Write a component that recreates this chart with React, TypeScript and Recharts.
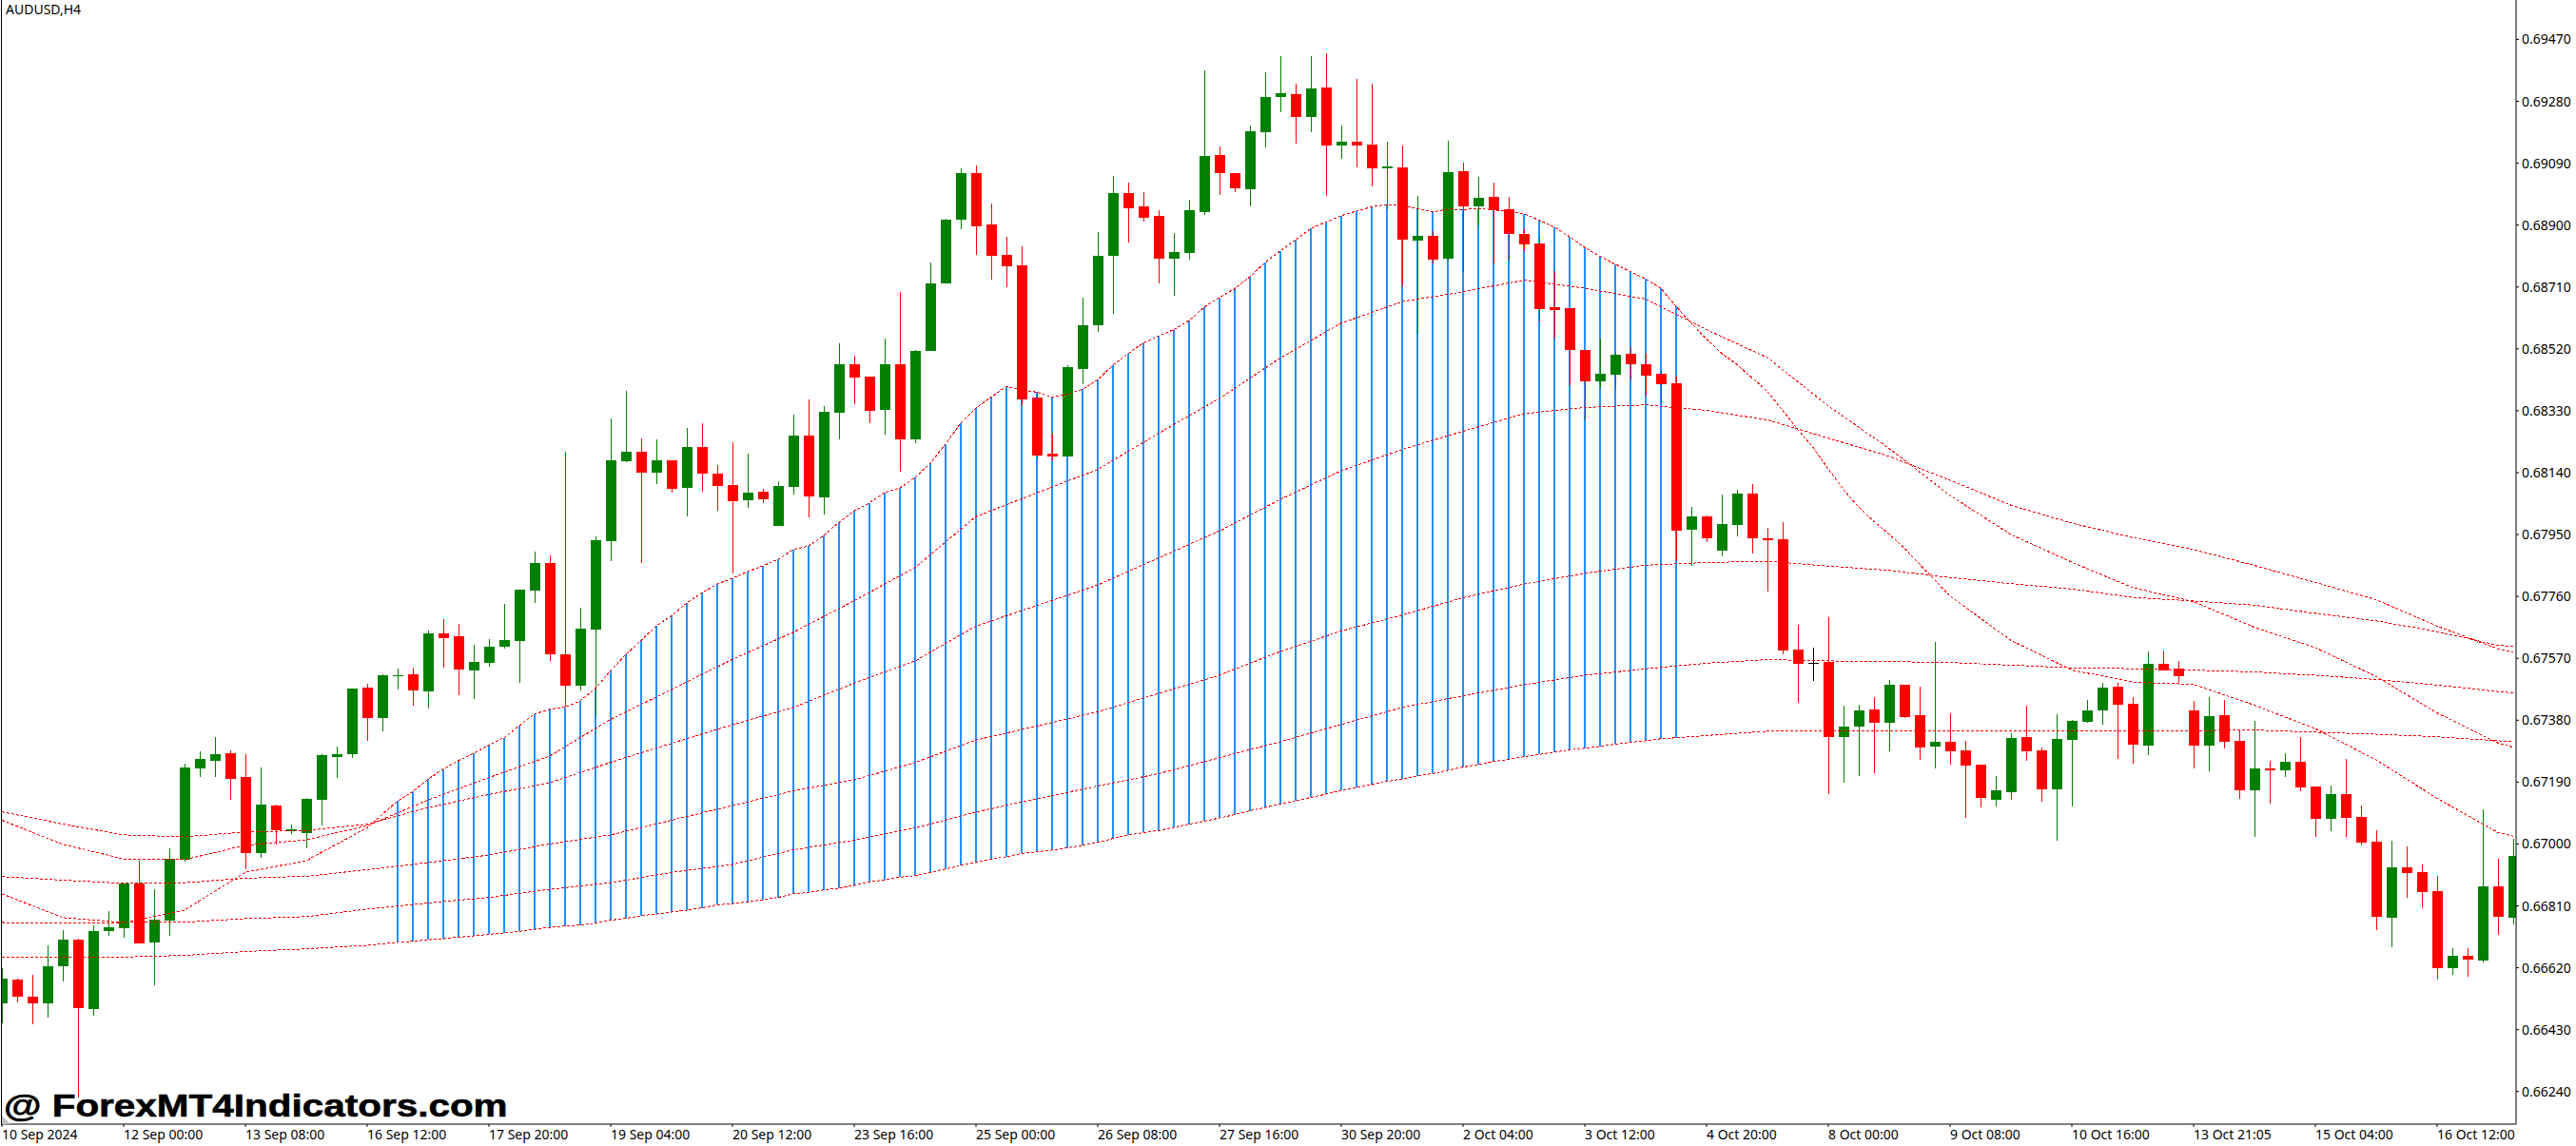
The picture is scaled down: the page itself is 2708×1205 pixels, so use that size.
import React from "react";
import { ComposedChart, Bar, Line, XAxis, YAxis } from "recharts";

// Prices in points (1 point = 0.00001)
const opens = [
66511,66584,66531,66512,66624,66705,66492,66732,66741,66879,
66697,66765,66951,67232,67255,67278,67206,66971,67118,67039,
67033,67135,67266,67275,67479,67386,67514,67521,67469,67647,
67638,67533,67556,67606,67623,67778,67863,67582,67486,67658,
67930,68175,68204,68140,68178,68093,68219,68137,68102,68055,
68082,67977,68096,68254,68064,68324,68473,68435,68333,68473,
68242,68514,68721,68916,69059,68901,68808,68776,68370,68198,
68189,68457,68592,68805,68998,68958,68928,68796,68814,68940,
69115,69059,69009,69185,69293,69301,69231,69323,69144,69156,
69147,69074,69077,68852,68866,68796,69065,68958,68987,68949,
68872,68844,68648,68644,68516,68420,68440,68505,68472,68443,
68414,67964,68005,67900,67979,68076,67939,67935,67597,67555,
67559,67327,67360,67413,67372,67489,67396,67299,67313,67287,
67243,67136,67158,67327,67287,67167,67320,67375,67410,67482,
67430,67301,67553,67539,67410,67301,67396,67316,67165,67232,
67226,67253,67176,67077,67153,67083,67007,66773,66928,66914,
66855,66618,66656,66642,66869,66773];
const highs = [
66618,66586,66599,66689,66737,66709,66750,66793,66879,66949,
66861,66986,67247,67284,67327,67286,67275,67235,67120,67061,
67140,67275,67298,67478,67492,67520,67538,67541,67654,67690,
67676,67612,67629,67737,67781,67898,67886,68204,67726,67944,
68306,68391,68245,68242,68178,68277,68292,68163,68233,68198,
68090,68114,68318,68365,68344,68537,68499,68435,68552,68695,
68517,68785,68919,69073,69083,68966,68864,68836,68385,68259,
68470,68678,68879,69051,69030,69000,68945,68875,68978,69375,
69140,69059,69206,69369,69419,69334,69419,69428,69206,69349,
69334,69155,69144,68989,68881,69158,69092,69048,69030,68987,
68887,68864,68760,68644,68516,68551,68509,68526,68505,68455,
68435,68036,68008,68073,68088,68105,67971,67988,67673,67602,
67696,67425,67427,67451,67503,67489,67482,67620,67401,67316,
67243,67208,67339,67425,67296,67398,67380,67442,67494,67494,
67451,67591,67595,67562,67439,67451,67442,67351,67377,67255,
67279,67327,67176,67179,67260,67117,67041,67010,66993,66937,
66902,66680,66680,67106,66955,67015];
const lows = [
66449,66514,66447,66466,66577,66222,66472,66719,66712,66694,
66566,66718,66945,67206,67206,67135,66923,66957,66999,67030,
66986,67056,67202,67263,67316,67345,67474,67424,67416,67542,
67457,67445,67545,67600,67495,67740,67562,67422,67472,67392,
67869,68172,67863,68105,68079,68006,68082,68023,67831,68032,
68047,67977,68073,68003,68012,68242,68350,68292,68257,68143,
68230,68514,68721,68887,68808,68732,68709,68348,68182,68179,
68189,68411,68571,68627,68846,68910,68721,68683,68793,68931,
68993,69000,68958,69138,69246,69150,69185,68989,69103,69077,
69019,68949,68712,68565,68782,68791,68756,68892,68782,68791,
68820,68604,68551,68408,68301,68401,68396,68422,68376,68351,
67867,67855,67927,67884,67945,67892,67775,67582,67432,67501,
67153,67188,67208,67217,67284,67387,67258,67232,67243,67079,
67112,67116,67136,67255,67129,67010,67115,67372,67366,67260,
67246,67272,67532,67494,67232,67222,67293,67138,67022,67124,
67205,67162,67022,67039,67022,66995,66735,66683,66834,66802,
66583,66599,66592,66637,66721,66752];
const closes = [
66586,66532,66512,66626,66705,66496,66732,66744,66879,66696,
66767,66954,67235,67261,67275,67199,66971,67120,67041,67044,
67138,67272,67275,67477,67386,67518,67518,67470,67647,67632,
67536,67559,67606,67626,67781,67863,67582,67486,67661,67933,
68178,68204,68140,68178,68090,68219,68137,68099,68052,68079,
68058,68099,68254,68067,68327,68473,68432,68330,68473,68242,
68514,68721,68916,69059,68896,68805,68773,68364,68192,68189,
68464,68592,68805,68998,68951,68922,68796,68817,68945,69112,
69059,69013,69188,69293,69305,69231,69319,69144,69156,69144,
69074,69079,68855,68866,68793,69062,68958,68984,68945,68872,
68840,68642,68639,68516,68420,68443,68501,68472,68437,68411,
67961,68005,67938,67983,68076,67938,67934,67594,67553,67555,
67327,67360,67410,67372,67489,67390,67296,67313,67284,67241,
67140,67165,67325,67284,67167,67322,67377,67410,67480,67427,
67305,67553,67532,67515,67301,67392,67313,67165,67232,67226,
67253,67173,67077,67153,67079,67003,66776,66928,66910,66852,
66618,66656,66645,66869,66776,66962];

// Shaded band: bars 26..110, drawn between the fastest and the lowest average
const bandFirstBar = 26;
const bandTop = [
67132,67161,67199,67230,67256,67278,67304,67326,67363,67399,
67414,67420,67439,67478,67532,67582,67625,67670,67701,67740,
67771,67798,67816,67836,67854,67874,67904,67915,67947,67988,
68023,68047,68079,68093,68125,68169,68228,68292,68338,68372,
68405,68394,68387,68372,68380,68396,68425,68470,68506,68538,
68560,68579,68607,68648,68678,68705,68742,68785,68821,68855,
68890,68909,68929,68943,68956,68963,68960,68951,68940,68949,
68948,68951,68946,68943,68935,68915,68894,68864,68831,68804,
68780,68757,68735,68706,68650];
const bandBottom = [
66698,66701,66706,66709,66714,66718,66723,66727,66732,66738,
66744,66748,66751,66757,66766,66772,66780,66785,66791,66797,
66804,66813,66817,66822,66829,66836,66847,66851,66859,66864,
66873,66883,66890,66898,66903,66913,66923,66934,66944,66954,
66961,66971,66976,66981,66988,66996,67005,67017,67027,67035,
67041,67051,67061,67070,67080,67090,67102,67112,67123,67133,
67143,67153,67165,67173,67182,67192,67200,67209,67216,67226,
67236,67244,67253,67260,67268,67275,67282,67289,67294,67299,
67307,67312,67317,67323,67326];

// Averages read at every fourth bar
const sampleBars = [0,4,8,12,16,20,24,28,32,36,40,44,48,52,56,60,64,68,72,76,80,84,88,92,96,100,104,108,112,116,120,124,128,132,136,140,144,148,152,156,160,164,165];
const lineB = [67073,66999,66954,66952,66996,67013,67056,67135,67204,67270,67383,67474,67567,67650,67747,67849,68005,68078,68150,68261,68368,68492,68599,68665,68695,68731,68706,68673,68579,68493,68345,68214,68070,67950,67865,67787,67744,67665,67603,67514,67402,67310,67297];
const lineC = [67099,67061,67028,67022,67037,67041,67061,67112,67152,67188,67251,67309,67366,67419,67494,67562,67669,67732,67795,67878,67961,68058,68146,68211,68267,68321,68340,68348,68331,68302,68246,68190,68117,68040,67985,67941,67904,67855,67803,67750,67669,67599,67590];
const lineD = [66900,66889,66879,66881,66895,66901,66921,66943,66966,67000,67028,67073,67118,67163,67197,67250,67319,67362,67406,67462,67518,67591,67654,67703,67756,67798,67831,67856,67864,67868,67853,67840,67818,67799,67783,67757,67746,67733,67708,67685,67652,67610,67606];
const lineE = [66759,66757,66759,66760,66771,66777,66800,66819,66836,66861,66881,66913,66937,66982,67012,67049,67098,67139,67178,67216,67265,67314,67367,67419,67455,67489,67518,67538,67555,67566,67562,67560,67557,67549,67541,67538,67534,67528,67518,67505,67488,67468,67464];

// Parts of the fastest and lowest averages outside the band
const lineAHeadBars = [0,4,8,12,16,20,24];
const lineAHead = [66847,66774,66759,66797,66913,66949,67050];
const lineATailBars = [111,112,113,114,115,116,117,118,119,120,121,122,123,124,125,126,128,132,136,140,144,148,152,156,160,164,165];
const lineATail = [68598,68550,68506,68472,68431,68389,68331,68272,68217,68151,68088,68034,67990,67951,67908,67859,67761,67625,67534,67497,67490,67426,67354,67258,67140,67035,67024];
const lineFHeadBars = [0,4,8,12,16,20,24];
const lineFHead = [66652,66652,66653,66658,66670,66678,66689];
const lineFTailBars = [112,116,120,124,128,132,136,140,144,148,152,156,160,164,165];
const lineFTail = [67333,67346,67347,67348,67348,67347,67347,67347,67348,67350,67343,67337,67329,67317,67314];

const priceTicks = [0.6947,0.6928,0.6909,0.689,0.6871,0.6852,0.6833,0.6814,0.6795,0.6776,0.6757,0.6738,0.6719,0.67,0.6681,0.6662,0.6643,0.6624];
const timeTicks = [0,8,16,24,32,40,48,56,64,72,80,88,96,104,112,120,128,136,144,152,160];
const timeLabels = ["10 Sep 2024","12 Sep 00:00","13 Sep 08:00","16 Sep 12:00","17 Sep 20:00","19 Sep 04:00","20 Sep 12:00","23 Sep 16:00","25 Sep 00:00","26 Sep 08:00","27 Sep 16:00","30 Sep 20:00","2 Oct 04:00","3 Oct 12:00","4 Oct 20:00","8 Oct 00:00","9 Oct 08:00","10 Oct 16:00","13 Oct 21:05","15 Oct 04:00","16 Oct 12:00"];

const P = 100000;
const rows: any[] = closes.map((c, i) => ({
  i,
  open: opens[i] / P,
  close: c / P,
  high: highs[i] / P,
  low: lows[i] / P,
  range: [lows[i] / P, highs[i] / P],
}));
bandTop.forEach((v, k) => {
  const r = rows[bandFirstBar + k];
  r.band = [bandBottom[k] / P, v / P];
  r.a = v / P;
  r.f = bandBottom[k] / P;
});
sampleBars.forEach((b, k) => {
  rows[b].b = lineB[k] / P;
  rows[b].c = lineC[k] / P;
  rows[b].d = lineD[k] / P;
  rows[b].e = lineE[k] / P;
});
lineAHeadBars.forEach((b, k) => (rows[b].a = lineAHead[k] / P));
lineATailBars.forEach((b, k) => (rows[b].a = lineATail[k] / P));
lineFHeadBars.forEach((b, k) => (rows[b].f = lineFHead[k] / P));
lineFTailBars.forEach((b, k) => (rows[b].f = lineFTail[k] / P));

const GREEN = "#008000";
const RED = "#ff0000";
const BLUE = "#1e90ff";
const AXIS_FONT = "'Noto Sans', sans-serif";

const Candle = (props: any) => {
  const { x, y, width, height, payload } = props;
  if (!payload || !(height > 0)) return null;
  const c = Math.round(x + width / 2);
  const k = height / (payload.high - payload.low);
  const top = y + (payload.high - Math.max(payload.open, payload.close)) * k;
  const bot = y + (payload.high - Math.min(payload.open, payload.close)) * k;
  const col = payload.close > payload.open ? GREEN : payload.close < payload.open ? RED : "#000000";
  return (
    <g shapeRendering="crispEdges">
      <rect x={c} y={y} width={1} height={height} fill={col} />
      <rect x={c - 5} y={top} width={11} height={Math.max(bot - top, 1)} fill={col} />
    </g>
  );
};

const BandBar = (props: any) => {
  const { x, y, width, height, payload } = props;
  if (!payload || !payload.band || !(height > 0)) return null;
  const c = Math.round(x + width / 2);
  return <rect x={c - 1} y={y} width={2} height={height} fill={BLUE} shapeRendering="crispEdges" />;
};

const TimeTick = (props: any) => {
  const { x, y, payload } = props;
  const k = timeTicks.indexOf(payload.value);
  return (
    <text x={x} y={y + 13} fontSize={14} fontFamily={AXIS_FONT} fill="#000" textAnchor="start">
      {timeLabels[k]}
    </text>
  );
};

const PriceTick = (props: any) => {
  const { x, y, payload } = props;
  return (
    <text x={x} y={y + 5} fontSize={14} fontFamily={AXIS_FONT} fill="#000" textAnchor="start">
      {payload.value.toFixed(5)}
    </text>
  );
};

const lineKeys = ["a", "b", "c", "d", "e", "f"];
const X_DOMAIN: [number, number] = [0, 165.1875];

export default function App() {
  return (
    <div style={{ position: "absolute", left: 0, top: 0, width: 2708, height: 1205, background: "#fff", overflow: "hidden" }}>
      <style>{".recharts-line-curve{shape-rendering:crispEdges}"}</style>
      <ComposedChart
        width={2708}
        height={1205}
        data={rows}
        margin={{ top: 0, right: 0, bottom: 0, left: 2 }}
      >
        <XAxis
          dataKey="i"
          type="number"
          domain={X_DOMAIN}
          allowDataOverflow
          ticks={timeTicks}
          interval={0}
          height={23}
          tickSize={3}
          tickMargin={0}
          tick={<TimeTick />}
          stroke="#000"
        />
        <XAxis xAxisId="band" dataKey="i" type="number" domain={X_DOMAIN} allowDataOverflow hide />
        <YAxis
          orientation="right"
          type="number"
          domain={[0.6614, 0.69591]}
          allowDataOverflow
          ticks={priceTicks}
          interval={0}
          width={63}
          tickSize={3}
          tickMargin={3}
          tick={<PriceTick />}
          stroke="#000"
        />
        <Bar xAxisId="band" dataKey="band" barSize={2} shape={<BandBar />} isAnimationActive={false} />
        {lineKeys.map((k) => (
          <Line
            key={k}
            dataKey={k}
            stroke={RED}
            strokeWidth={1}
            strokeDasharray="3 2"
            dot={false}
            activeDot={false}
            connectNulls
            type="linear"
            isAnimationActive={false}
          />
        ))}
        <Bar dataKey="range" barSize={11} shape={<Candle />} isAnimationActive={false} />
      </ComposedChart>
      <div style={{ position: "absolute", left: 1, top: 0, width: 1, height: 1183, background: "#000" }} />
      <div style={{ position: "absolute", left: 2, top: 1173, width: 9, height: 9, background: "#c0c0c0", clipPath: "polygon(0 0, 100% 100%, 0 100%)" }} />
      <div style={{ position: "absolute", left: 6, top: 0, fontFamily: AXIS_FONT, fontSize: 14, lineHeight: "20px", color: "#000" }}>AUDUSD,H4</div>
      <div style={{ position: "absolute", left: 4, top: 1142, fontFamily: "'Liberation Sans', Arial, sans-serif", fontWeight: 700, fontSize: 34, lineHeight: "40px", color: "#000", whiteSpace: "nowrap", WebkitTextStroke: "0.6px #000", transform: "scaleX(1.19)", transformOrigin: "left center" }}>@ ForexMT4Indicators.com</div>
    </div>
  );
}
